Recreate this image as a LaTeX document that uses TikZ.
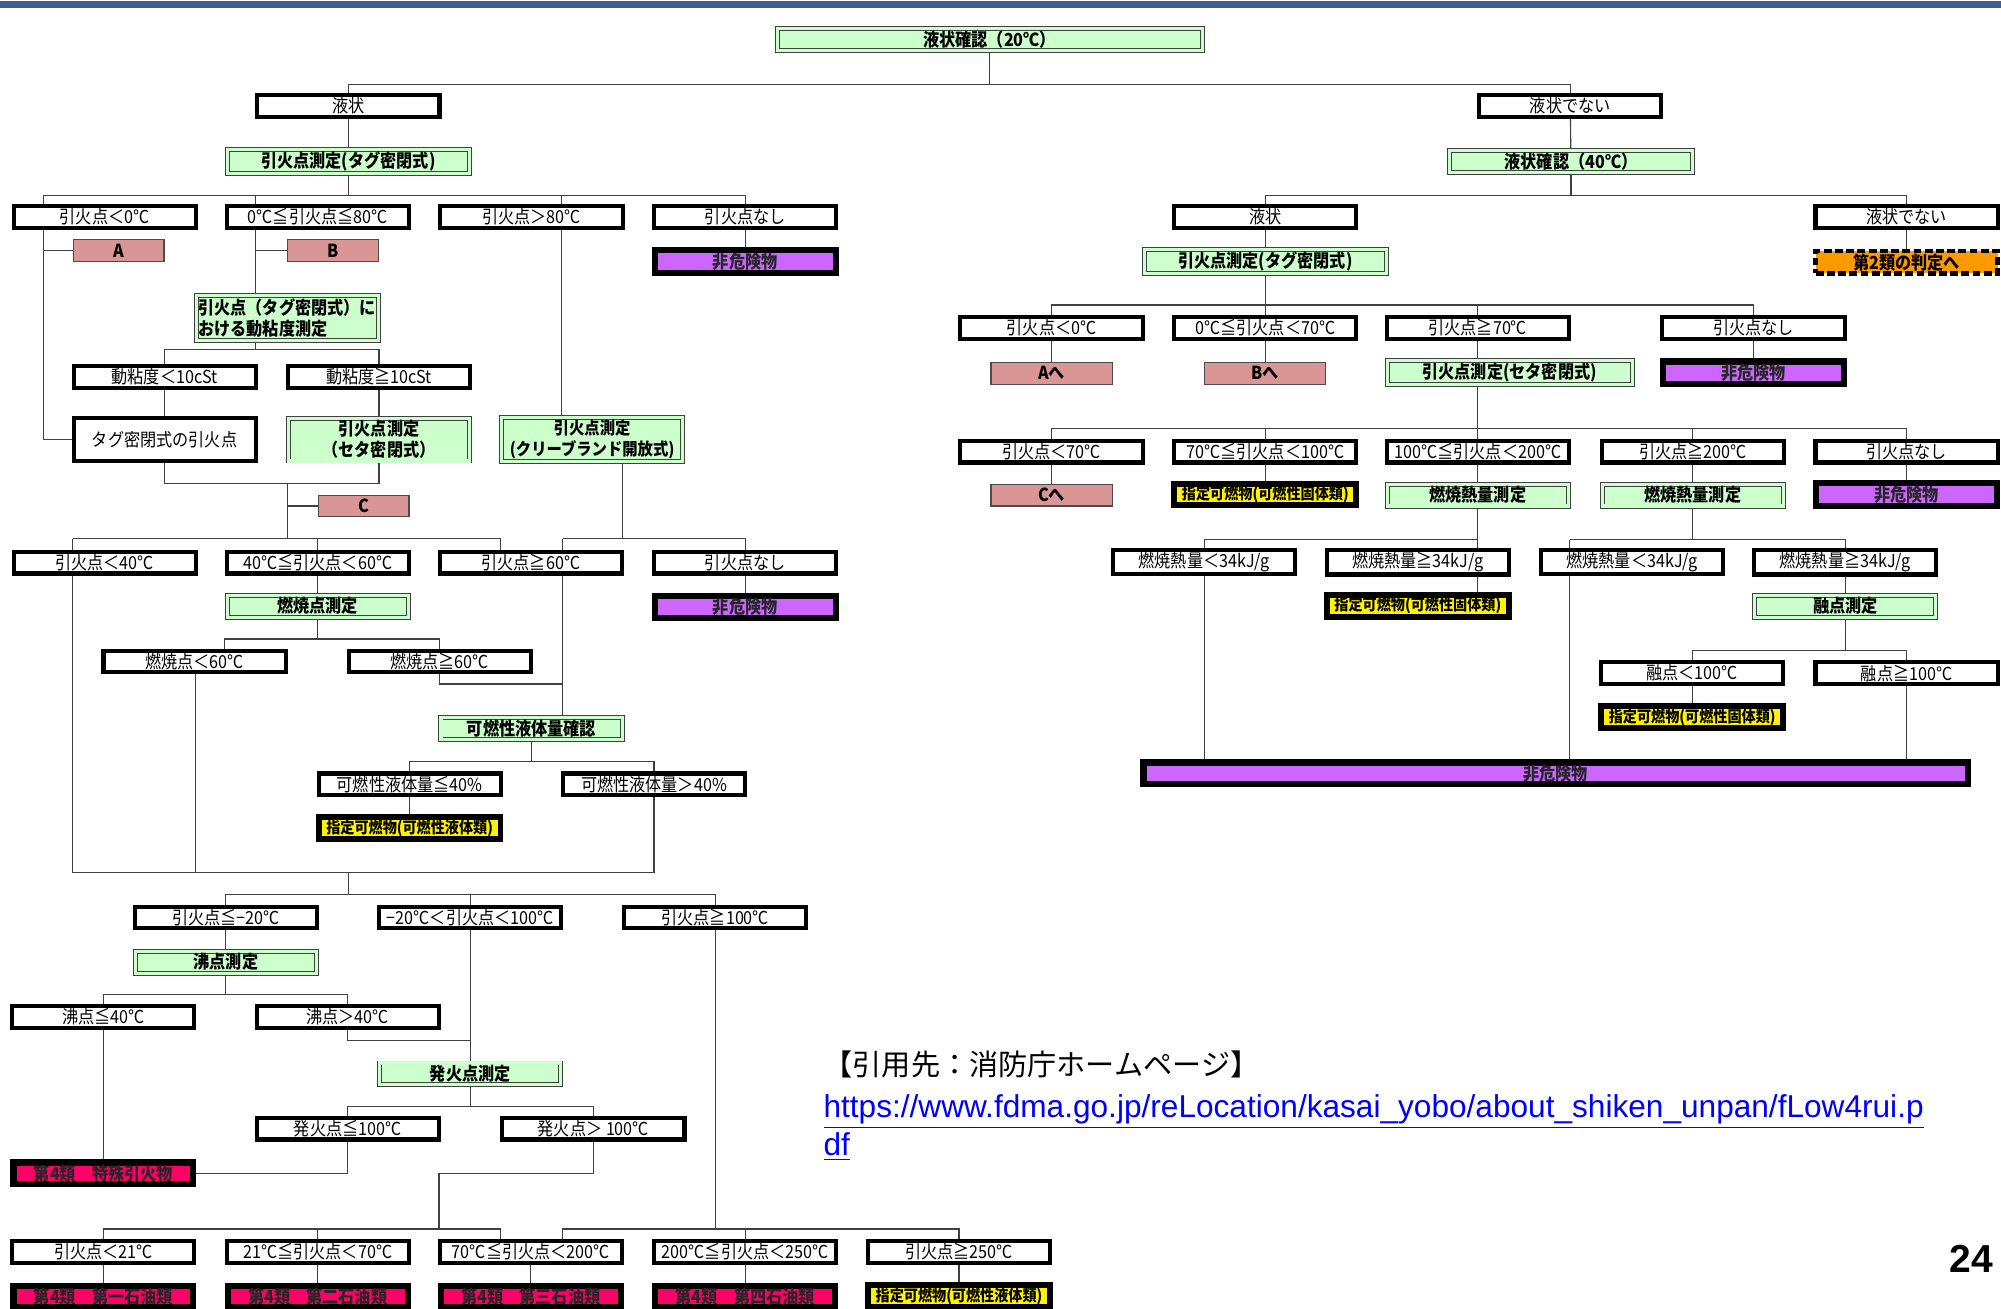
\documentclass[tikz,border=0pt]{standalone}
\usepackage{fontspec}
\setmainfont{Liberation Sans}
\newfontfamily\jp{Noto Sans CJK JP}[FakeStretch=0.9]
\newfontfamily\jpwide{Noto Sans CJK JP}
\usepackage{tikz}
\usetikzlibrary{calc}
\pgfdeclarelayer{back}
\pgfsetlayers{back,main}
\definecolor{measgreen}{HTML}{CCFFCC}
\definecolor{refpink}{HTML}{D99694}
\definecolor{nhpurple}{HTML}{CC66FF}
\definecolor{clsred}{HTML}{FF0066}
\definecolor{clsorange}{HTML}{FF9900}
\definecolor{topbar}{RGB}{63,94,145}
\definecolor{urlblue}{HTML}{0000FF}
\tikzset{
  box/.style={inner sep=1pt, align=center, font=\jp\fontsize{8}{9.4}\selectfont},
  boldbox/.style={box, font=\jp\bfseries\fontsize{8}{9.4}\selectfont},
  cond/.style={box, draw=black, line width=1.8pt, fill=white, minimum width=2.856cm, minimum height=0.336cm},
  meas/.style={boldbox, draw=black!75, line width=0.4pt, double=measgreen, double distance=1.4pt, fill=measgreen, minimum width=2.84cm, minimum height=0.342cm},
  refbox/.style={boldbox, draw=black!70, line width=0.5pt, fill=refpink, minimum width=1.42cm, minimum height=0.34cm},
  nonhaz/.style={boldbox, draw=black, line width=2.8pt, fill=nhpurple, text=black!85, minimum width=2.84cm, minimum height=0.35cm},
  desig/.style={boldbox, draw=black, line width=2.6pt, fill=yellow, minimum width=2.85cm, minimum height=0.34cm, font=\jp\bfseries\fontsize{7}{8}\selectfont},
  clsfour/.style={boldbox, draw=black, line width=2.8pt, fill=clsred, text=black!85, minimum width=2.82cm, minimum height=0.32cm},
  clstwo/.style={boldbox, draw=black, line width=2pt, dash pattern=on 3.5pt off 1.5pt, fill=clsorange, minimum width=2.85cm, minimum height=0.35cm},
  conn/.style={draw=black!75, line width=0.5pt}
}
\begin{document}
\begin{tikzpicture}[x=0.02cm, y=-0.02cm]
  \useasboundingbox (0,0) rectangle (1568,1025);
  \fill[topbar] (0,1) rectangle (1568,6);

  % top of the chart
  \node[meas, minimum width=6.66cm] (root) at (775.5,30.8) {液状確認（20℃）};
  \node[cond] (liq) at (273,83) {液状};
  \node[cond] (liqno) at (1230.5,83) {液状でない};

  % left tree: liquid at 20 C
  \node[meas, minimum width=3.8cm] (ftag) at (273,126.5) {引火点測定(タグ密閉式)};
  \node[cond] (fa) at (82,170) {引火点＜0℃};
  \node[cond] (fb) at (249,170) {0℃≦引火点≦80℃};
  \node[cond] (fc) at (416.5,170) {引火点＞80℃};
  \node[cond] (fd) at (584,170) {引火点なし};
  \node[refbox] (refA) at (93,196.5) {A};
  \node[refbox] (refB) at (261,196.5) {B};
  \node[nonhaz] (nh1) at (584,204.9) {非危険物};
  \node[meas, minimum height=0.70cm, align=left] (visc) at (225,249) {引火点（タグ密閉式）に\\おける動粘度測定};
  \node[cond] (vlow) at (129,295.5) {動粘度＜10cSt};
  \node[cond] (vhigh) at (297,295.5) {動粘度≧10cSt};
  \node[cond, minimum height=0.68cm] (tagfp) at (129,344.5) {タグ密閉式の引火点};
  \node[meas, minimum height=0.66cm] (seta1) at (297,344.5) {引火点測定\\（セタ密閉式）};
  \node[meas, minimum height=0.66cm, font=\jp\bfseries\fontsize{7.6}{9.4}\selectfont] (clev) at (464,344.5) {引火点測定\\(クリーブランド開放式)};
  \node[refbox] (refC) at (285,396.5) {C};
  \node[cond] (ga) at (82,441) {引火点＜40℃};
  \node[cond] (gb) at (249,441) {40℃≦引火点＜60℃};
  \node[cond] (gc) at (416,441) {引火点≧60℃};
  \node[cond] (gd) at (584,441) {引火点なし};
  \node[nonhaz] (nh2) at (584,475.5) {非危険物};
  \node[meas] (fire) at (249,475) {燃焼点測定};
  \node[cond] (fpl) at (152.5,518.5) {燃焼点＜60℃};
  \node[cond] (fph) at (344.5,518.5) {燃焼点≧60℃};
  \node[meas] (liqamt) at (416.5,571) {可燃性液体量確認};
  \node[cond] (la) at (321,614.5) {可燃性液体量≦40\%};
  \node[cond] (lb) at (512.5,614.5) {可燃性液体量＞40\%};
  \node[desig] (dl1) at (321,649) {指定可燃物(可燃性液体類)};
  \node[cond] (ha) at (177,719) {引火点≦−20℃};
  \node[cond] (hb) at (368.5,719) {−20℃＜引火点＜100℃};
  \node[cond] (hc) at (560.5,719) {引火点≧100℃};
  \node[meas] (boil) at (177,754) {沸点測定};
  \node[cond] (ba) at (81,797) {沸点≦40℃};
  \node[cond] (bb) at (272.5,797) {沸点＞40℃};
  \node[meas] (ign) at (368.5,841.5) {発火点測定};
  \node[cond] (ia) at (272.5,884.5) {発火点≦100℃};
  \node[cond] (ib) at (465,884.5) {発火点＞ 100℃};
  \node[clsfour] (sp) at (81,919.5) {第4類　特殊引火物};
  \node[cond] (ka) at (81,981) {引火点＜21℃};
  \node[cond] (kb) at (249,981) {21℃≦引火点＜70℃};
  \node[cond] (kc) at (416,981) {70℃≦引火点＜200℃};
  \node[cond] (kd) at (584,981) {200℃≦引火点＜250℃};
  \node[cond] (ke) at (751.5,981) {引火点≧250℃};
  \node[clsfour] (pa) at (81,1016) {第4類　第一石油類};
  \node[clsfour] (pb) at (249,1016) {第4類　第二石油類};
  \node[clsfour] (pc) at (416,1016) {第4類　第三石油類};
  \node[clsfour] (pd) at (584,1016) {第4類　第四石油類};
  \node[desig] (dl2) at (751.5,1015.5) {指定可燃物(可燃性液体類)};

  % right tree: not liquid at 20 C
  \node[meas, minimum width=3.8cm] (liq40) at (1231,126.5) {液状確認（40℃）};
  \node[cond] (rliq) at (991.5,170) {液状};
  \node[cond] (rno) at (1494,170) {液状でない};
  \node[meas, minimum width=3.8cm] (rtag) at (991.5,205) {引火点測定(タグ密閉式)};
  \node[clstwo] (cls2) at (1494,205.5) {第2類の判定へ};
  \node[cond] (ra) at (824,257) {引火点＜0℃};
  \node[cond] (rb) at (991.5,257) {0℃≦引火点＜70℃};
  \node[cond] (rc) at (1158,257) {引火点≧70℃};
  \node[cond] (rd) at (1374,257) {引火点なし};
  \node[refbox, minimum width=1.9cm] (refA2) at (824,292.5) {Aへ};
  \node[refbox, minimum width=1.9cm] (refB2) at (991.5,292.5) {Bへ};
  \node[meas, minimum width=3.84cm] (rseta) at (1183,292) {引火点測定(セタ密閉式)};
  \node[nonhaz] (nh3) at (1374,292) {非危険物};
  \node[cond] (sa) at (824,354) {引火点＜70℃};
  \node[cond] (sb) at (991.5,354) {70℃≦引火点＜100℃};
  \node[cond] (sc) at (1158,354) {100℃≦引火点＜200℃};
  \node[cond] (sd) at (1326.5,354) {引火点≧200℃};
  \node[cond] (se) at (1494,354) {引火点なし};
  \node[refbox, minimum width=1.9cm] (refC2) at (824,388) {Cへ};
  \node[desig] (ds1) at (991.5,387.5) {指定可燃物(可燃性固体類)};
  \node[meas] (heat1) at (1158,388) {燃焼熱量測定};
  \node[meas] (heat2) at (1326.5,388) {燃焼熱量測定};
  \node[nonhaz] (nh4) at (1494,387.5) {非危険物};
  \node[cond] (ta) at (943.7,440.7) {燃焼熱量＜34kJ/g};
  \node[cond] (tb) at (1111,440.7) {燃焼熱量≧34kJ/g};
  \node[cond] (tc) at (1279,440.7) {燃焼熱量＜34kJ/g};
  \node[cond] (td) at (1446,440.7) {燃焼熱量≧34kJ/g};
  \node[desig] (ds2) at (1111,474.7) {指定可燃物(可燃性固体類)};
  \node[meas] (melt) at (1446,475) {融点測定};
  \node[cond] (ma) at (1326,527.5) {融点＜100℃};
  \node[cond] (mb) at (1494,527.5) {融点≧100℃};
  \node[desig] (ds3) at (1326,562) {指定可燃物(可燃性固体類)};
  \node[nonhaz, minimum width=12.92cm, minimum height=0.33cm] (nhbig) at (1219,606) {非危険物};

  % source and page number
  \node[anchor=base west, inner sep=0pt, font=\jpwide\fontsize{13}{15}\selectfont] (src) at (645,843) {【引用先：消防庁ホームページ】};
  \node[anchor=base west, inner sep=0pt, text=urlblue, font=\fontsize{14.1}{16}\selectfont] (url) at (645,875.5) {\underline{https://www.fdma.go.jp/reLocation/kasai\_yobo/about\_shiken\_unpan/fLow4rui.p}};
  \node[anchor=base west, inner sep=0pt, text=urlblue, font=\fontsize{14.1}{16}\selectfont] (url2) at (645,905.5) {\underline{df}};
  \node[anchor=base east, inner sep=0pt, font=\bfseries\fontsize{17.4}{20}\selectfont] (page) at (1562,997) {24};

  % junctions
  \coordinate (b0) at (775.5,66);
  \coordinate (b1) at (273,153);
  \coordinate (b1a) at (34,153);
  \coordinate (b1b) at (200,153);
  \coordinate (b1c) at (440,153);
  \coordinate (b1d) at (584,153);
  \coordinate (b2) at (200,274);
  \coordinate (b3) at (225,379);
  \coordinate (b4) at (225,422);
  \coordinate (b4a) at (57,422);
  \coordinate (b4c) at (392,422);
  \coordinate (b5) at (488,422);
  \coordinate (b5a) at (441,422);
  \coordinate (b6) at (249,500.7);
  \coordinate (b6a) at (176,500.7);
  \coordinate (b7) at (441,536);
  \coordinate (b8) at (273,684);
  \coordinate (b8b) at (153,684);
  \coordinate (b8c) at (512.5,684);
  \coordinate (b9) at (416.5,597);
  \coordinate (b10) at (273,701);
  \coordinate (b11) at (177,779.5);
  \coordinate (b12) at (368.5,815);
  \coordinate (b13) at (368.5,867);
  \coordinate (b14) at (344,919.5);
  \coordinate (b15) at (344,963);
  \coordinate (b15c) at (392,963);
  \coordinate (b16) at (560.5,963);
  \coordinate (b16a) at (441,963);
  \coordinate (r0) at (1231,153);
  \coordinate (r1) at (991.5,239);
  \coordinate (r2) at (1158,336);
  \coordinate (r3) at (1158,423);
  \coordinate (r4) at (1326.5,423);
  \coordinate (r4a) at (1230,423);
  \coordinate (r5) at (1446,510);

  \begin{pgfonlayer}{back}
    \draw[conn] (root.south) -- (b0);
    \draw[conn] (liq.north) |- (b0) -| (liqno.north);
    % left tree
    \draw[conn] (liq) -- (ftag);
    \draw[conn] (ftag.south) -- (b1);
    \draw[conn] (b1a) -- (b1d) -- (fd.north);
    \draw[conn] (b1a) |- (tagfp.west);
    \draw[conn] (refA.west -| b1a) -- (refA.west);
    \draw[conn] (b1b) -- (b1b |- visc.north);
    \draw[conn] (refB.west -| b1b) -- (refB.west);
    \draw[conn] (b1c) -- (b1c |- clev.north);
    \draw[conn] (fd) -- (nh1);
    \draw[conn] (b1b |- visc.south) -- (b2);
    \draw[conn] (vlow.north) |- (b2) -| (vhigh.north);
    \draw[conn] (vlow) -- (tagfp);
    \draw[conn] (vhigh) -- (seta1);
    \draw[conn] (tagfp.south) |- (b3) -| (seta1.south);
    \draw[conn] (b3) -- (b4);
    \draw[conn] (refC.west -| b3) -- (refC.west);
    \draw[conn] (b4a) -- (b4c) -- (b4c |- gc.north);
    \draw[conn] (gb.north |- b4) -- (gb.north);
    \draw[conn] (clev.south -| b5) -- (b5);
    \draw[conn] (b5a) -| (gd.north);
    \draw[conn] (b5a) -- (b5a |- liqamt.north);
    \draw[conn] (gd) -- (nh2);
    \draw[conn] (gb) -- (fire);
    \draw[conn] (fire.south) -- (b6);
    \draw[conn] (b6a |- fpl.north) -- (b6a) -| (fph.north);
    \draw[conn] (b8b |- fpl.south) -- (b8b);
    \draw[conn] (fph.south) |- (b7);
    \draw[conn] (liqamt.south) -- (b9);
    \draw[conn] (la.north) |- (b9) -| (lb.north);
    \draw[conn] (la) -- (dl1);
    \draw[conn] (b4a) |- (b8c) -- (lb.south);
    \draw[conn] (b8) -- (b10);
    \draw[conn] (ha.north) |- (b10) -| (hc.north);
    \draw[conn] (hb.north |- b10) -- (hb.north);
    \draw[conn] (ha) -- (boil);
    \draw[conn] (boil.south) -- (b11);
    \draw[conn] (ba.north) |- (b11) -| (bb.north);
    \draw[conn] (ba) -- (sp);
    \draw[conn] (bb.south) |- (b12);
    \draw[conn] (hb) -- (ign);
    \draw[conn] (ign.south) -- (b13);
    \draw[conn] (ia.north) |- (b13) -| (ib.north);
    \draw[conn] (ia.south) |- (sp.east);
    \draw[conn] (ib.south) |- (b14) -- (b15);
    \draw[conn] (ka.north) |- (b15c) -- (b15c |- kc.north);
    \draw[conn] (kb.north |- b15) -- (kb.north);
    \draw[conn] (hc.south) -- (b16);
    \draw[conn] (b16a |- kc.north) -- (b16a) -| (ke.north);
    \draw[conn] (kd.north |- b16) -- (kd.north);
    \draw[conn] (ka) -- (pa);
    \draw[conn] (kb) -- (pb);
    \draw[conn] (kc) -- (pc);
    \draw[conn] (kd) -- (pd);
    \draw[conn] (ke) -- (dl2);
    % right tree
    \draw[conn] (liqno) -- (liq40);
    \draw[conn] (liq40.south) -- (r0);
    \draw[conn] (rliq.north) |- (r0) -| (rno.north);
    \draw[conn] (rliq) -- (rtag);
    \draw[conn] (rno) -- (cls2);
    \draw[conn] (rtag) -- (rb);
    \draw[conn] (ra.north) |- (r1) -| (rd.north);
    \draw[conn] (rc.north |- r1) -- (rc.north);
    \draw[conn] (ra) -- (refA2);
    \draw[conn] (rb) -- (refB2);
    \draw[conn] (rc.south) -- (rc.south |- rseta.north);
    \draw[conn] (rd) -- (nh3);
    \draw[conn] (rseta.south -| r2) -- (r2);
    \draw[conn] (sa.north) |- (r2) -| (se.north);
    \draw[conn] (sb.north |- r2) -- (sb.north);
    \draw[conn] (r2) -- (sc.north);
    \draw[conn] (sd.north |- r2) -- (sd.north);
    \draw[conn] (sa) -- (refC2);
    \draw[conn] (sb) -- (ds1);
    \draw[conn] (sc) -- (heat1);
    \draw[conn] (sd) -- (heat2);
    \draw[conn] (se) -- (nh4);
    \draw[conn] (heat1.south) -- (r3);
    \draw[conn] (ta.north) |- (r3) -- (r3 |- ds2.north);
    \draw[conn] (heat2.south) -- (r4);
    \draw[conn] (r4a) -| (td.north);
    \draw[conn] (r4a) -- (r4a |- nhbig.north);
    \draw[conn] (ta.south) -- (ta.south |- nhbig.north);
    \draw[conn] (td) -- (melt);
    \draw[conn] (melt.south) -- (r5);
    \draw[conn] (ma.north) |- (r5) -| (mb.north);
    \draw[conn] (ma) -- (ds3);
    \draw[conn] (mb.south) -- (mb.south |- nhbig.north);
  \end{pgfonlayer}
\end{tikzpicture}
\end{document}
